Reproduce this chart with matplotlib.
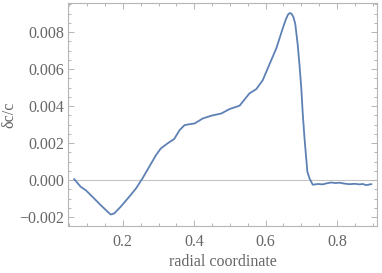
import matplotlib
matplotlib.use("Agg")
import matplotlib.pyplot as plt
from matplotlib.ticker import AutoMinorLocator, FixedLocator

# values
radius = [0.064, 0.082, 0.096, 0.115, 0.138, 0.157, 0.166, 0.176, 0.194, 0.218,
          0.237, 0.255, 0.274, 0.293, 0.306, 0.325, 0.344, 0.359, 0.373, 0.387,
          0.401, 0.424, 0.448, 0.476, 0.499, 0.527, 0.555, 0.574, 0.592, 0.606,
          0.630, 0.648, 0.657, 0.663, 0.668, 0.673, 0.678, 0.683, 0.690, 0.695,
          0.700, 0.704, 0.709, 0.717, 0.723, 0.732, 0.746, 0.760, 0.772, 0.784,
          0.796, 0.807, 0.821, 0.835, 0.849, 0.863, 0.872, 0.882, 0.890, 0.896]
dc_over_c = [0.00005, -0.00036, -0.00054, -0.0009, -0.00135, -0.0017, -0.00186, -0.0018, -0.00144, -0.0009,
             -0.00045, 0.00009, 0.00072, 0.00135, 0.0017, 0.00198, 0.00222, 0.0027, 0.00297, 0.00302,
             0.00306, 0.00333, 0.00348, 0.0036, 0.00384, 0.00402, 0.00469, 0.00492, 0.0054, 0.00604,
             0.00712, 0.0082, 0.0087, 0.00895, 0.00903, 0.00898, 0.0088, 0.00845, 0.0073, 0.0062,
             0.00496, 0.0036, 0.00225, 0.00045, 0.00009, -0.00025, -0.00021, -0.00023, -0.00017, -0.00013,
             -0.00016, -0.00014, -0.00019, -0.00022, -0.0002, -0.00023, -0.00021, -0.00027, -0.00024, -0.00022]

x_ticks = [0.2, 0.4, 0.6, 0.8]
y_ticks = [-0.002, 0.000, 0.002, 0.004, 0.006, 0.008]

text_col = "#666666"
frame_col = "#b5b5b5"

plt.rcParams["font.family"] = ["Liberation Serif", "DejaVu Serif"]
plt.rcParams["font.size"] = 11.5

fig = plt.figure(figsize=(3.82, 2.73), dpi=100)
ax = fig.add_axes([68 / 382, 1 - 226 / 273, (377 - 68) / 382, (226 - 3) / 273])

ax.axhline(0, color="#c4c4c4", lw=0.8, zorder=1)
ax.plot(radius, dc_over_c, color="#5e81b5", lw=1.3, zorder=2)

ax.set_xlim(0.0465, 0.912)
ax.set_ylim(-0.00248, 0.00957)

ax.xaxis.set_major_locator(FixedLocator(x_ticks))
ax.yaxis.set_major_locator(FixedLocator(y_ticks))
ax.xaxis.set_minor_locator(AutoMinorLocator(4))
ax.yaxis.set_minor_locator(AutoMinorLocator(4))
ax.set_xticklabels([f"{v:.1f}" for v in x_ticks])
ax.set_yticklabels([f"{v:.3f}".replace("-", "\u2212") for v in y_ticks])

ax.tick_params(which="both", direction="in", top=True, right=True,
               color=frame_col, labelcolor=text_col, width=0.7)
ax.tick_params(which="major", length=4)
ax.tick_params(axis="x", which="major", pad=6)
ax.tick_params(axis="y", which="major", pad=3)
ax.tick_params(which="minor", length=2)

for s in ax.spines.values():
    s.set_color(frame_col)
    s.set_linewidth(0.8)

ax.set_xlabel("radial coordinate", color=text_col, labelpad=3)
ax.set_ylabel("\u03b4c/c", color=text_col)
ax.yaxis.set_label_coords(-0.165, 0.5)

fig.savefig("out.png", dpi=100)
